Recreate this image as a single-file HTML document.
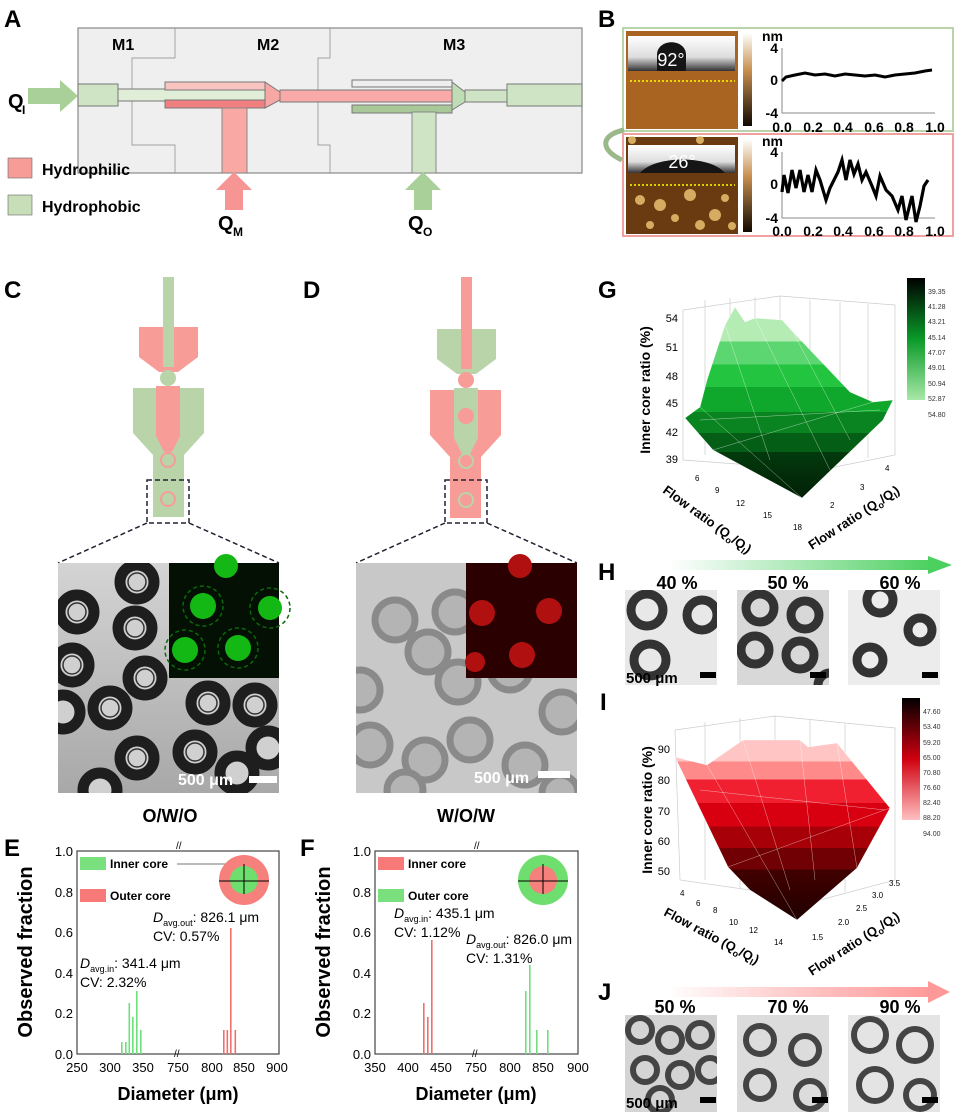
<!DOCTYPE html>
<html><head><meta charset="utf-8"><style>
body{margin:0;background:#fff}
svg{display:block;font-family:"Liberation Sans",Arial,sans-serif}
.b{font-weight:bold}
</style></head><body>
<svg width="955" height="1112" viewBox="0 0 955 1112" xmlns="http://www.w3.org/2000/svg">
<defs>
<linearGradient id="gG" x1="0" y1="307" x2="0" y2="498" gradientUnits="userSpaceOnUse">
<stop offset="0" stop-color="#b4ecb4"/><stop offset=".18" stop-color="#b4ecb4"/>
<stop offset=".18" stop-color="#5cd670"/><stop offset=".3" stop-color="#5cd670"/>
<stop offset=".3" stop-color="#22c440"/><stop offset=".42" stop-color="#22c440"/>
<stop offset=".42" stop-color="#10a82c"/><stop offset=".55" stop-color="#10a82c"/>
<stop offset=".55" stop-color="#0a8420"/><stop offset=".66" stop-color="#0a8420"/>
<stop offset=".66" stop-color="#055e16"/><stop offset=".76" stop-color="#055e16"/>
<stop offset=".76" stop-color="#023a0c"/><stop offset="1" stop-color="#012006"/>
</linearGradient>
<linearGradient id="gI" x1="0" y1="740" x2="0" y2="920" gradientUnits="userSpaceOnUse">
<stop offset="0" stop-color="#ffc4c4"/><stop offset=".12" stop-color="#ffc4c4"/>
<stop offset=".12" stop-color="#ff8a8a"/><stop offset=".22" stop-color="#ff8a8a"/>
<stop offset=".22" stop-color="#f02030"/><stop offset=".35" stop-color="#f02030"/>
<stop offset=".35" stop-color="#d80010"/><stop offset=".48" stop-color="#d80010"/>
<stop offset=".48" stop-color="#a80008"/><stop offset=".6" stop-color="#a80008"/>
<stop offset=".6" stop-color="#700004"/><stop offset=".72" stop-color="#700004"/>
<stop offset=".72" stop-color="#420000"/><stop offset="1" stop-color="#200000"/>
</linearGradient>
<linearGradient id="aG" x1="0" x2="1"><stop offset="0" stop-color="#5ad070" stop-opacity="0"/><stop offset="1" stop-color="#4cd060"/></linearGradient>
<linearGradient id="aR" x1="0" x2="1"><stop offset="0" stop-color="#f88" stop-opacity="0"/><stop offset="1" stop-color="#f99"/></linearGradient>
<linearGradient id="cbG" x1="0" y1="0" x2="0" y2="1"><stop offset="0" stop-color="#000"/><stop offset=".5" stop-color="#0a9a28"/><stop offset="1" stop-color="#a8e8a8"/></linearGradient>
<linearGradient id="cbR" x1="0" y1="0" x2="0" y2="1"><stop offset="0" stop-color="#000"/><stop offset=".5" stop-color="#d00010"/><stop offset="1" stop-color="#ffc0c0"/></linearGradient>
<linearGradient id="cbar" x1="0" y1="0" x2="0" y2="1"><stop offset="0" stop-color="#fff"/><stop offset=".4" stop-color="#c89050"/><stop offset="1" stop-color="#100800"/></linearGradient>
<linearGradient id="drop" x1="0" y1="0" x2="0" y2="1"><stop offset="0" stop-color="#fff"/><stop offset=".6" stop-color="#ddd"/><stop offset="1" stop-color="#333"/></linearGradient>
<linearGradient id="cbg" x1="0" y1="0" x2="0" y2="1"><stop offset="0" stop-color="#d4d4d4"/><stop offset="1" stop-color="#a8a8a8"/></linearGradient>
<clipPath id="cC"><rect x="58" y="563" width="221" height="230"/></clipPath>
<clipPath id="cD"><rect x="356" y="563" width="221" height="230"/></clipPath>
<clipPath id="cH"><rect x="625" y="590" width="92" height="95"/><rect x="737" y="590" width="92" height="95"/><rect x="848" y="590" width="92" height="95"/></clipPath>
<clipPath id="cJ"><rect x="625" y="1015" width="92" height="97"/><rect x="737" y="1015" width="92" height="97"/><rect x="848" y="1015" width="92" height="97"/></clipPath>
</defs>

<!-- A -->
<text x="4" y="27" class="b" font-size="24">A</text>
<rect x="78" y="28" width="504" height="145" fill="#efefef" stroke="#888" stroke-width="1.2"/>
<path d="M175 28V58H132V95M132 95V145H175V173M330 28V58H318V95M318 95V145H330V173" fill="none" stroke="#888" stroke-width=".7"/>
<text x="112" y="50" class="b" font-size="16">M1</text>
<text x="257" y="50" class="b" font-size="16">M2</text>
<text x="443" y="50" class="b" font-size="16">M3</text>
<rect x="78" y="84" width="40" height="22" fill="#cfe4c4" stroke="#777"/>
<rect x="118" y="89" width="150" height="12" fill="#e0eed8" stroke="#777"/>
<rect x="165" y="82" width="100" height="8" fill="#f9c4c0" stroke="#777"/>
<rect x="165" y="100" width="100" height="8" fill="#f08080" stroke="#777"/>
<path d="M265 82L280 92V100L265 108Z" fill="#f7a8a4" stroke="#777"/>
<rect x="280" y="90" width="175" height="12" fill="#f9aaa8" stroke="#777"/>
<rect x="352" y="80" width="100" height="7" fill="#eee" stroke="#777"/>
<rect x="352" y="105" width="100" height="8" fill="#a8c898" stroke="#777"/>
<path d="M452 82L465 92V102L452 110Z" fill="#c0dcb4" stroke="#777"/>
<rect x="465" y="90" width="42" height="12" fill="#cfe4c4" stroke="#777"/>
<rect x="507" y="84" width="75" height="22" fill="#cfe4c4" stroke="#777"/>
<rect x="222" y="108" width="25" height="65" fill="#f9a8a4" stroke="#888"/>
<rect x="412" y="112" width="24" height="61" fill="#cfe4c4" stroke="#888"/>
<path d="M28 88H60V80L78 96L60 112V104H28Z" fill="#a8d098"/>
<text x="8" y="108" class="b" font-size="20">Q</text><text x="22" y="114" class="b" font-size="12">I</text>
<path d="M225 210V190H216L234 172L252 190H243V210Z" fill="#f79494"/>
<text x="218" y="230" class="b" font-size="20">Q</text><text x="233" y="236" class="b" font-size="12">M</text>
<path d="M414 210V190H405L423 172L441 190H432V210Z" fill="#a8d098"/>
<text x="408" y="230" class="b" font-size="20">Q</text><text x="423" y="236" class="b" font-size="12">O</text>
<rect x="8" y="158" width="24" height="20" fill="#f89c98" stroke="#666" stroke-width=".6"/>
<text x="42" y="175" class="b" font-size="16">Hydrophilic</text>
<rect x="8" y="195" width="24" height="20" fill="#c8deb8" stroke="#666" stroke-width=".6"/>
<text x="42" y="212" class="b" font-size="16">Hydrophobic</text>

<!-- B -->
<text x="598" y="27" class="b" font-size="24">B</text>
<rect x="623" y="28" width="330" height="103" fill="#fff" stroke="#b8d4a8" stroke-width="2"/>
<rect x="623" y="134" width="330" height="102" fill="#fff" stroke="#f0a0a0" stroke-width="2"/>
<rect x="626" y="31" width="112" height="98" fill="#a86420"/>
<rect x="628" y="36" width="107" height="35" fill="url(#drop)"/>
<path d="M657 71V55C657 38 686 38 686 55V71Z" fill="#151515"/>
<text x="671" y="66" font-size="18" fill="#fff" text-anchor="middle">92°</text>
<line x1="630" y1="81" x2="735" y2="81" stroke="#ff0" stroke-width="1.5" stroke-dasharray="2,2"/>
<rect x="626" y="137" width="112" height="97" fill="#6a3a10"/>
<g fill="#e8c070" opacity=".85"><circle cx="640" cy="200" r="5"/><circle cx="660" cy="205" r="6"/><circle cx="690" cy="195" r="6"/><circle cx="715" cy="215" r="6"/><circle cx="650" cy="225" r="4"/><circle cx="700" cy="225" r="5"/><circle cx="725" cy="198" r="4"/><circle cx="675" cy="218" r="4"/><circle cx="632" cy="140" r="4"/><circle cx="700" cy="140" r="4"/><circle cx="732" cy="226" r="4"/></g>
<rect x="628" y="145" width="107" height="28" fill="url(#drop)"/>
<path d="M640 173C655 155 710 155 725 173Z" fill="#151515"/>
<text x="682" y="168" font-size="18" fill="#fff" text-anchor="middle">26°</text>
<line x1="630" y1="185" x2="735" y2="185" stroke="#ff0" stroke-width="1.5" stroke-dasharray="2,2"/>
<rect x="743" y="33" width="9" height="93" fill="url(#cbar)"/>
<rect x="743" y="139" width="9" height="93" fill="url(#cbar)"/>
<g font-size="14" class="b"><text x="762" y="41">nm</text><text x="762" y="146">nm</text></g>
<g font-size="14" class="b" text-anchor="end"><text x="778" y="53">4</text><text x="778" y="85">0</text><text x="778" y="118">-4</text>
<text x="778" y="157">4</text><text x="778" y="189">0</text><text x="778" y="223">-4</text></g>
<path d="M782 48V113H935M782 152V218H935" fill="none" stroke="#888"/>
<g font-size="14" class="b" text-anchor="middle"><text x="782" y="132">0.0</text><text x="813" y="132">0.2</text><text x="843" y="132">0.4</text><text x="874" y="132">0.6</text><text x="904" y="132">0.8</text><text x="935" y="132">1.0</text>
<text x="782" y="236">0.0</text><text x="813" y="236">0.2</text><text x="843" y="236">0.4</text><text x="874" y="236">0.6</text><text x="904" y="236">0.8</text><text x="935" y="236">1.0</text></g>
<polyline points="782,81 786,77 795,75 805,73 815,75 825,74 835,76 845,74 855,75 865,76 875,75 885,77 895,75 905,74 915,73 925,71 932,70" fill="none" stroke="#000" stroke-width="3"/>
<polyline points="782,192 784,175 788,193 792,170 796,188 800,170 804,192 808,175 812,192 816,170 820,180 826,200 830,188 838,172 842,160 846,180 850,160 854,174 858,164 862,180 866,172 872,186 876,196 880,176 886,190 892,196 898,210 902,196 906,220 912,196 916,222 920,206 924,186 928,180" fill="none" stroke="#000" stroke-width="3.2"/>
<path d="M624 130C600 135 600 150 622 160" fill="none" stroke="#9ab88a" stroke-width="5"/>

<!-- C -->
<text x="4" y="298" class="b" font-size="24">C</text>
<rect x="163" y="277" width="11" height="50" fill="#b8d4a8"/>
<path d="M139 327H198V357L178 372H159L139 357Z" fill="#f89c98"/>
<rect x="163" y="327" width="11" height="40" fill="#b8d4a8"/>
<circle cx="168" cy="378" r="8" fill="#b8d4a8"/>
<path d="M133 388H204V433L184 455V517H153V455L133 433Z" fill="#b8d4a8"/>
<path d="M156 386H180V436L172 452H164L156 436Z" fill="#f89c98"/>
<circle cx="168" cy="415" r="8" fill="#f89c98"/>
<circle cx="168" cy="460" r="7" fill="none" stroke="#f89c98" stroke-width="2"/>
<circle cx="168" cy="499" r="7" fill="none" stroke="#f89c98" stroke-width="2"/>
<rect x="147" y="480" width="42" height="43" fill="none" stroke="#223" stroke-width="1.5" stroke-dasharray="5,3"/>
<path d="M147 523L58 563M189 523L279 563" stroke="#223" stroke-width="1.5" stroke-dasharray="5,3"/>
<rect x="58" y="563" width="221" height="230" fill="url(#cbg)"/>
<g clip-path="url(#cC)"><g fill="#d0d0d0" stroke="#1e1e1e" stroke-width="11">
<circle cx="77" cy="612" r="17"/><circle cx="137" cy="582" r="17"/><circle cx="135" cy="628" r="17"/><circle cx="72" cy="665" r="17"/><circle cx="145" cy="678" r="17"/><circle cx="63" cy="712" r="17"/><circle cx="110" cy="708" r="17"/><circle cx="208" cy="703" r="17"/><circle cx="255" cy="705" r="17"/><circle cx="137" cy="758" r="17"/><circle cx="195" cy="752" r="17"/><circle cx="100" cy="790" r="17"/><circle cx="268" cy="748" r="17"/><circle cx="237" cy="773" r="17"/></g>
<g fill="none" stroke="#333" stroke-width="1.5"><circle cx="77" cy="612" r="9"/><circle cx="137" cy="582" r="9"/><circle cx="135" cy="628" r="9"/><circle cx="72" cy="665" r="9"/><circle cx="145" cy="678" r="9"/><circle cx="110" cy="708" r="9"/><circle cx="208" cy="703" r="9"/><circle cx="255" cy="705" r="9"/><circle cx="137" cy="758" r="9"/><circle cx="195" cy="752" r="9"/></g></g>
<rect x="169" y="563" width="110" height="115" fill="#031003"/>
<g fill="#14b814"><circle cx="226" cy="566" r="12"/><circle cx="203" cy="606" r="13"/><circle cx="270" cy="608" r="12"/><circle cx="185" cy="650" r="13"/><circle cx="238" cy="648" r="13"/></g>
<g fill="none" stroke="#0a6a0a" stroke-width="1.5" stroke-dasharray="4,3"><circle cx="203" cy="606" r="20"/><circle cx="270" cy="608" r="20"/><circle cx="185" cy="650" r="20"/><circle cx="238" cy="648" r="20"/></g>
<text x="178" y="785" class="b" font-size="16" fill="#fff">500 μm</text><rect x="249" y="776" width="28" height="7" fill="#fff"/>
<text x="170" y="822" class="b" font-size="18" text-anchor="middle">O/W/O</text>

<!-- D -->
<text x="303" y="298" class="b" font-size="24">D</text>
<rect x="461" y="277" width="11" height="50" fill="#f89c98"/>
<path d="M437 329H496V359L476 374H457L437 359Z" fill="#b8d4a8"/>
<rect x="461" y="327" width="11" height="42" fill="#f89c98"/>
<circle cx="466" cy="380" r="8" fill="#f89c98"/>
<path d="M430 390H501V435L481 457V518H450V457L430 435Z" fill="#f89c98"/>
<path d="M454 388H478V438L470 454H462L454 438Z" fill="#b8d4a8"/>
<circle cx="466" cy="416" r="8" fill="#f89c98"/>
<circle cx="466" cy="461" r="7" fill="none" stroke="#b8d4a8" stroke-width="2"/>
<circle cx="466" cy="500" r="7" fill="none" stroke="#b8d4a8" stroke-width="2"/>
<rect x="445" y="480" width="42" height="43" fill="none" stroke="#223" stroke-width="1.5" stroke-dasharray="5,3"/>
<path d="M445 523L356 563M487 523L577 563" stroke="#223" stroke-width="1.5" stroke-dasharray="5,3"/>
<rect x="356" y="563" width="221" height="230" fill="#c8c8c8"/>
<g clip-path="url(#cD)"><g fill="#b4b4b4" stroke="#8a8a8a" stroke-width="7">
<circle cx="360" cy="690" r="20"/><circle cx="395" cy="620" r="20"/><circle cx="428" cy="652" r="20"/><circle cx="455" cy="612" r="20"/><circle cx="458" cy="682" r="20"/><circle cx="510" cy="670" r="20"/><circle cx="370" cy="745" r="20"/><circle cx="425" cy="760" r="20"/><circle cx="470" cy="740" r="20"/><circle cx="525" cy="765" r="20"/><circle cx="562" cy="712" r="20"/><circle cx="405" cy="790" r="18"/><circle cx="560" cy="793" r="18"/></g></g>
<rect x="466" y="563" width="111" height="115" fill="#2a0000"/>
<g fill="#b01010"><circle cx="520" cy="566" r="12"/><circle cx="482" cy="613" r="13"/><circle cx="549" cy="611" r="13"/><circle cx="522" cy="655" r="13"/><circle cx="475" cy="662" r="10"/></g>
<text x="474" y="783" class="b" font-size="16" fill="#fff">500 μm</text><rect x="538" y="771" width="32" height="7" fill="#fff"/>
<text x="466" y="822" class="b" font-size="18" text-anchor="middle">W/O/W</text>

<!-- E -->
<text x="4" y="856" class="b" font-size="24">E</text>
<rect x="77" y="851" width="202" height="203" fill="none" stroke="#444" stroke-width="1.2"/>
<g font-size="13" text-anchor="end"><text x="73" y="856">1.0</text><text x="73" y="897">0.8</text><text x="73" y="937">0.6</text><text x="73" y="978">0.4</text><text x="73" y="1018">0.2</text><text x="73" y="1059">0.0</text></g>
<g font-size="13" text-anchor="middle"><text x="77" y="1072">250</text><text x="110" y="1072">300</text><text x="143" y="1072">350</text><text x="178" y="1072">750</text><text x="212" y="1072">800</text><text x="244" y="1072">850</text><text x="277" y="1072">900</text></g>
<text x="176" y="849" font-size="10">//</text><text x="174" y="1057" font-size="10">//</text>
<text transform="translate(32,952) rotate(-90)" class="b" font-size="20" text-anchor="middle">Observed fraction</text>
<text x="178" y="1100" class="b" font-size="18" text-anchor="middle">Diameter (μm)</text>
<g fill="#6ee07a"><rect x="121" y="1042" width="1.6" height="12"/><rect x="125" y="1042" width="1.6" height="12"/><rect x="128.5" y="1003" width="1.6" height="51"/><rect x="132" y="1017" width="1.6" height="37"/><rect x="136" y="991" width="1.6" height="63"/><rect x="140" y="1030" width="1.6" height="24"/></g>
<g fill="#f07070"><rect x="223" y="1030" width="1.6" height="24"/><rect x="226.5" y="1030" width="1.6" height="24"/><rect x="230" y="928" width="1.6" height="126"/><rect x="234.5" y="1030" width="1.6" height="24"/></g>
<rect x="80" y="857" width="26" height="13" fill="#7ae07e"/><text x="110" y="868" class="b" font-size="12">Inner core</text>
<rect x="80" y="889" width="26" height="13" fill="#f77a78"/><text x="110" y="900" class="b" font-size="12">Outer core</text>
<line x1="177" y1="864" x2="244" y2="864" stroke="#777"/>
<circle cx="244" cy="880" r="25" fill="#f5807c"/><circle cx="244" cy="880" r="14" fill="#6ede6e"/>
<path d="M219 881H269M244 864V894" stroke="#000" stroke-width="1"/>
<g font-size="14"><text x="153" y="922"><tspan font-style="italic">D</tspan><tspan font-size="9" dy="4">avg.out</tspan><tspan dy="-4">: 826.1 μm</tspan></text><text x="153" y="941">CV: 0.57%</text>
<text x="80" y="968"><tspan font-style="italic">D</tspan><tspan font-size="9" dy="4">avg.in</tspan><tspan dy="-4">: 341.4 μm</tspan></text><text x="80" y="987">CV: 2.32%</text></g>

<!-- F -->
<text x="300" y="856" class="b" font-size="24">F</text>
<rect x="375" y="851" width="203" height="203" fill="none" stroke="#444" stroke-width="1.2"/>
<g font-size="13" text-anchor="end"><text x="371" y="856">1.0</text><text x="371" y="897">0.8</text><text x="371" y="937">0.6</text><text x="371" y="978">0.4</text><text x="371" y="1018">0.2</text><text x="371" y="1059">0.0</text></g>
<g font-size="13" text-anchor="middle"><text x="375" y="1072">350</text><text x="408" y="1072">400</text><text x="441" y="1072">450</text><text x="476" y="1072">750</text><text x="510" y="1072">800</text><text x="543" y="1072">850</text><text x="578" y="1072">900</text></g>
<text x="474" y="849" font-size="10">//</text><text x="472" y="1057" font-size="10">//</text>
<text transform="translate(330,952) rotate(-90)" class="b" font-size="20" text-anchor="middle">Observed fraction</text>
<text x="476" y="1100" class="b" font-size="18" text-anchor="middle">Diameter (μm)</text>
<g fill="#f07070"><rect x="423" y="1003" width="1.6" height="51"/><rect x="427" y="1017" width="1.6" height="37"/><rect x="431" y="940" width="1.6" height="114"/></g>
<g fill="#6ee07a"><rect x="525" y="991" width="1.6" height="63"/><rect x="529" y="965" width="1.6" height="89"/><rect x="536" y="1030" width="1.6" height="24"/><rect x="547" y="1030" width="1.6" height="24"/></g>
<rect x="378" y="857" width="26" height="13" fill="#f77a78"/><text x="408" y="868" class="b" font-size="12">Inner core</text>
<rect x="378" y="889" width="26" height="13" fill="#7ae07e"/><text x="408" y="900" class="b" font-size="12">Outer core</text>
<circle cx="543" cy="880" r="25" fill="#6ede6e"/><circle cx="543" cy="880" r="14" fill="#f5807c"/>
<path d="M518 881H568M543 864V894" stroke="#000" stroke-width="1"/>
<g font-size="14"><text x="394" y="918"><tspan font-style="italic">D</tspan><tspan font-size="9" dy="4">avg.in</tspan><tspan dy="-4">: 435.1 μm</tspan></text><text x="394" y="937">CV: 1.12%</text>
<text x="466" y="944"><tspan font-style="italic">D</tspan><tspan font-size="9" dy="4">avg.out</tspan><tspan dy="-4">: 826.0 μm</tspan></text><text x="466" y="963">CV: 1.31%</text></g>

<!-- G -->
<text x="598" y="298" class="b" font-size="24">G</text>
<g stroke="#ccc" stroke-width=".7" fill="none"><path d="M683 310L780 296L895 305V455L820 470L683 460Z"/><path d="M705 300V455M730 298V460M755 297V465M780 296V470M810 300V468M840 302V462M868 304V458"/></g>
<polygon points="685,418 700,407 707,380 725,325 735,307 745,322 755,318 782,320 793,332 850,392 873,402 893,400 883,420 802,498 713,450" fill="url(#gG)" stroke="#fff" stroke-width=".4"/>
<g stroke="#fff" stroke-width=".5" opacity=".6" fill="none"><path d="M700 407L802 498M725 325L770 460M755 318L830 470M793 332L850 440M713 450L873 402M700 420L880 410"/></g>
<g font-size="11" text-anchor="end"><text x="678" y="322">54</text><text x="678" y="351">51</text><text x="678" y="380">48</text><text x="678" y="407">45</text><text x="678" y="436">42</text><text x="678" y="463">39</text></g>
<text transform="translate(650,390) rotate(-90)" class="b" font-size="14" text-anchor="middle">Inner core ratio (%)</text>
<g font-size="8"><text x="695" y="481">6</text><text x="715" y="493">9</text><text x="736" y="506">12</text><text x="763" y="518">15</text><text x="793" y="530">18</text></g>
<g font-size="8"><text x="830" y="508">2</text><text x="860" y="490">3</text><text x="885" y="471">4</text></g>
<text transform="translate(662,492) rotate(36)" class="b" font-size="13">Flow ratio (Q<tspan font-size="9" dy="3">o</tspan><tspan dy="-3">/Q</tspan><tspan font-size="9" dy="3">I</tspan><tspan dy="-3">)</tspan></text>
<text transform="translate(812,550) rotate(-33)" class="b" font-size="13">Flow ratio (Q<tspan font-size="9" dy="3">o</tspan><tspan dy="-3">/Q</tspan><tspan font-size="9" dy="3">I</tspan><tspan dy="-3">)</tspan></text>
<rect x="907" y="278" width="18" height="122" fill="url(#cbG)"/>
<g font-size="7" fill="#333"><text x="928" y="294">39.35</text><text x="928" y="309">41.28</text><text x="928" y="324">43.21</text><text x="928" y="340">45.14</text><text x="928" y="355">47.07</text><text x="928" y="370">49.01</text><text x="928" y="386">50.94</text><text x="928" y="401">52.87</text><text x="928" y="417">54.80</text></g>

<!-- H -->
<text x="598" y="580" class="b" font-size="24">H</text>
<rect x="670" y="560" width="260" height="10" fill="url(#aG)"/><path d="M928 556L952 565L928 574Z" fill="#4cd060"/>
<g class="b" font-size="18" text-anchor="middle"><text x="677" y="589">40 %</text><text x="788" y="589">50 %</text><text x="900" y="589">60 %</text></g>
<rect x="625" y="590" width="92" height="95" fill="#e8e8e8"/><rect x="737" y="590" width="92" height="95" fill="#d8d8d8"/><rect x="848" y="590" width="92" height="95" fill="#ececec"/>
<g clip-path="url(#cH)"><g fill="none" stroke="#333" stroke-width="9"><circle cx="647" cy="610" r="16"/><circle cx="702" cy="615" r="15"/><circle cx="650" cy="660" r="16"/><circle cx="760" cy="608" r="14"/><circle cx="805" cy="615" r="14"/><circle cx="755" cy="650" r="14"/><circle cx="800" cy="655" r="14"/><circle cx="830" cy="685" r="12"/><circle cx="880" cy="600" r="13"/><circle cx="870" cy="660" r="13"/><circle cx="920" cy="630" r="12"/></g></g>
<text x="626" y="683" class="b" font-size="15">500 μm</text>
<g fill="#000"><rect x="700" y="672" width="16" height="6"/><rect x="810" y="672" width="16" height="6"/><rect x="922" y="672" width="16" height="6"/></g>

<!-- I -->
<text x="600" y="710" class="b" font-size="24">I</text>
<g stroke="#ccc" stroke-width=".7" fill="none"><path d="M675 730L775 716L895 728V880L820 900L680 880Z"/><path d="M705 722V880M740 718V888M775 716V895M810 720V898M845 724V892"/></g>
<polygon points="675,757 707,765 743,740 800,740 808,747 837,743 890,808 857,868 797,920 750,890 728,867" fill="url(#gI)" stroke="#fff" stroke-width=".4"/>
<g stroke="#fff" stroke-width=".5" opacity=".6" fill="none"><path d="M707,765L797 920M743 740L790 890M800 740L815 880M837 743L857 868M728 867L890 808M700 790L885 810"/></g>
<g font-size="11" text-anchor="end"><text x="670" y="753">90</text><text x="670" y="784">80</text><text x="670" y="815">70</text><text x="670" y="845">60</text><text x="670" y="875">50</text></g>
<text transform="translate(652,810) rotate(-90)" class="b" font-size="14" text-anchor="middle">Inner core ratio (%)</text>
<g font-size="8"><text x="680" y="896">4</text><text x="696" y="906">6</text><text x="713" y="913">8</text><text x="729" y="925">10</text><text x="749" y="933">12</text><text x="774" y="945">14</text></g>
<g font-size="8"><text x="812" y="940">1.5</text><text x="838" y="925">2.0</text><text x="856" y="911">2.5</text><text x="872" y="898">3.0</text><text x="889" y="886">3.5</text></g>
<text transform="translate(663,915) rotate(28)" class="b" font-size="13">Flow ratio (Q<tspan font-size="9" dy="3">o</tspan><tspan dy="-3">/Q</tspan><tspan font-size="9" dy="3">I</tspan><tspan dy="-3">)</tspan></text>
<text transform="translate(812,976) rotate(-33)" class="b" font-size="13">Flow ratio (Q<tspan font-size="9" dy="3">o</tspan><tspan dy="-3">/Q</tspan><tspan font-size="9" dy="3">I</tspan><tspan dy="-3">)</tspan></text>
<rect x="902" y="698" width="18" height="122" fill="url(#cbR)"/>
<g font-size="7" fill="#333"><text x="923" y="714">47.60</text><text x="923" y="729">53.40</text><text x="923" y="745">59.20</text><text x="923" y="760">65.00</text><text x="923" y="775">70.80</text><text x="923" y="790">76.60</text><text x="923" y="805">82.40</text><text x="923" y="820">88.20</text><text x="923" y="836">94.00</text></g>

<!-- J -->
<text x="598" y="1000" class="b" font-size="24">J</text>
<rect x="668" y="987" width="262" height="10" fill="url(#aR)"/><path d="M928 981L950 992L928 1003Z" fill="#f99"/>
<g class="b" font-size="18" text-anchor="middle"><text x="675" y="1013">50 %</text><text x="788" y="1013">70 %</text><text x="900" y="1013">90 %</text></g>
<rect x="625" y="1015" width="92" height="97" fill="#d4d4d4"/><rect x="737" y="1015" width="92" height="97" fill="#dcdcdc"/><rect x="848" y="1015" width="92" height="97" fill="#e4e4e4"/>
<g clip-path="url(#cJ)"><g fill="none" stroke="#444" stroke-width="6"><circle cx="640" cy="1030" r="12"/><circle cx="670" cy="1040" r="12"/><circle cx="700" cy="1035" r="12"/><circle cx="645" cy="1070" r="12"/><circle cx="680" cy="1075" r="12"/><circle cx="710" cy="1070" r="12"/><circle cx="660" cy="1100" r="12"/><circle cx="760" cy="1040" r="14"/><circle cx="805" cy="1050" r="14"/><circle cx="760" cy="1085" r="14"/><circle cx="810" cy="1095" r="14"/><circle cx="870" cy="1035" r="16"/><circle cx="915" cy="1045" r="16"/><circle cx="875" cy="1085" r="16"/><circle cx="920" cy="1095" r="14"/></g></g>
<text x="626" y="1108" class="b" font-size="15">500 μm</text>
<g fill="#000"><rect x="700" y="1097" width="16" height="6"/><rect x="812" y="1097" width="16" height="6"/><rect x="922" y="1097" width="16" height="6"/></g>
</svg>
</body></html>
